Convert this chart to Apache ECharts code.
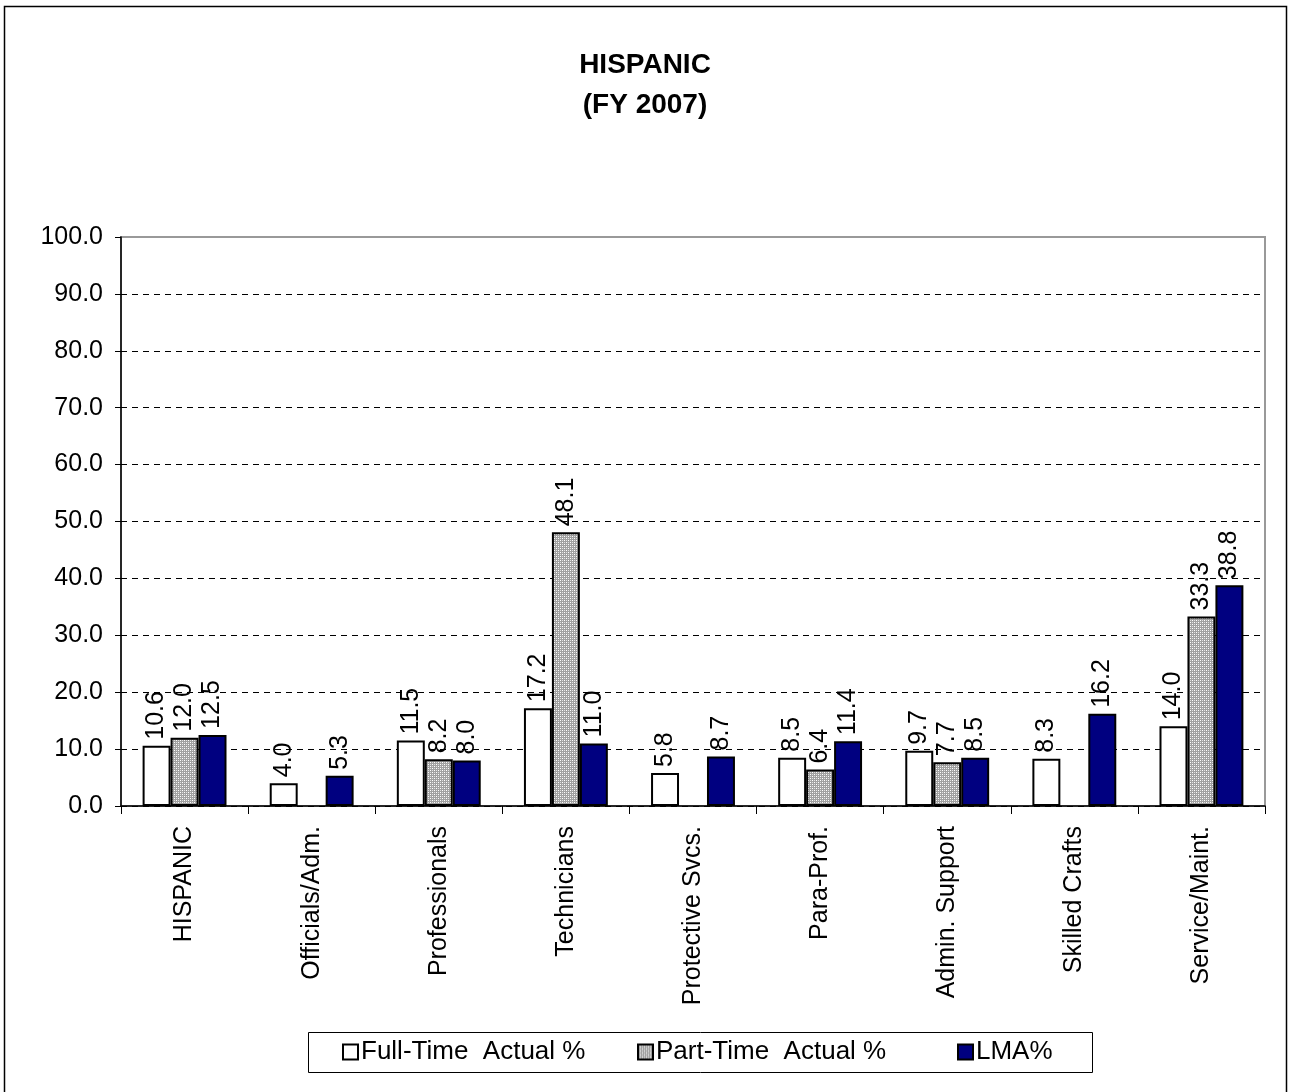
<!DOCTYPE html>
<html>
<head>
<meta charset="utf-8">
<script src="https://cdn.jsdelivr.net/npm/echarts@6/dist/echarts.min.js"></script>
<style>
  html, body { margin: 0; padding: 0; background: #fff; }
  #chart { width: 1290px; height: 1092px; }
</style>
</head>
<body>
<div id="chart"></div>
<script>
  const categories = ['HISPANIC', 'Officials/Adm.', 'Professionals', 'Technicians', 'Protective Svcs.',
    'Para-Prof.', 'Admin. Support', 'Skilled Crafts', 'Service/Maint.']
  const fullTime = [10.6, 4.0, 11.5, 17.2, 5.8, 8.5, 9.7, 8.3, 14.0]
  const partTime = [12.0, '-', 8.2, 48.1, '-', 6.4, 7.7, '-', 33.3]
  const lma = [12.5, 5.3, 8.0, 11.0, 8.7, 11.4, 8.5, 16.2, 38.8]
  const seriesNames = ['Full-Time  Actual %', 'Part-Time  Actual %', 'LMA%']
  const yTicks = [0, 100, 10]

  // small crosshatch tile for the part-time bars
  function hatch() {
    let c = document.createElement('canvas')
    c.width = 4
    c.height = 4
    let ctx = c.getContext('2d')
    ctx.fillStyle = '#a0a0a0'
    ctx.fillRect(0, 0, 4, 4)
    ctx.fillStyle = '#ffffff'
    ctx.fillRect(0, 0, 1, 1)
    ctx.fillRect(2, 2, 1, 1)
    ctx.fillStyle = '#e0e0e0'
    ctx.fillRect(2, 0, 1, 1)
    ctx.fillRect(0, 2, 1, 1)
    return c
  }

  const font = 'Arial, "Liberation Sans", sans-serif'
  const valueLabel = {
    show: true,
    position: 'top',
    rotate: 90,
    align: 'left',
    verticalAlign: 'middle',
    distance: 6,
    color: '#000',
    fontSize: 25,
    fontFamily: font,
    formatter: p => Number(p.value).toFixed(1)
  }
  const barBorder = {borderColor: '#000', borderWidth: 2}

  // one legend per series so each entry sits where the original puts it
  const legendLeft = [342, 637, 957]
  const legends = seriesNames.map((n, i) => ({
    left: legendLeft[i],
    top: 1037,
    padding: 0,
    itemWidth: 15,
    itemHeight: 15,
    icon: 'rect',
    textStyle: {fontSize: 26, lineHeight: 30, fontFamily: font, color: '#000', padding: [0, 0, 0, -2]},
    data: [n]
  }))

  let myChart = echarts.init(document.getElementById('chart'))
  myChart.setOption({
    animation: false,
    backgroundColor: '#fff',
    title: {
      text: 'HISPANIC\n(FY 2007)',
      left: 'center',
      top: 40,
      textStyle: {
        fontSize: 28,
        fontWeight: 'bold',
        fontFamily: font,
        lineHeight: 40,
        color: '#000'
      }
    },
    graphic: [{
      type: 'rect',
      shape: {x: 4.5, y: 6.5, width: 1282, height: 1100},
      style: {fill: 'none', stroke: '#000', lineWidth: 1.5},
      silent: true
    }, {
      type: 'rect',
      shape: {x: 308.5, y: 1032.5, width: 784, height: 40},
      style: {fill: 'none', stroke: '#000', lineWidth: 1},
      silent: true
    }],
    legend: legends,
    grid: {
      left: 121,
      right: 25,
      top: 237,
      bottom: 286,
      show: true,
      borderColor: '#999',
      borderWidth: 2
    },
    xAxis: {
      type: 'category',
      data: categories,
      axisLine: {lineStyle: {color: '#000', width: 1.5}},
      axisTick: {show: true, length: 8, inside: false, lineStyle: {color: '#000'}},
      axisLabel: {
        rotate: 90,
        interval: 0,
        margin: 20,
        fontSize: 25,
        fontFamily: font,
        color: '#000'
      }
    },
    yAxis: {
      type: 'value',
      min: yTicks[0],
      max: yTicks[1],
      interval: yTicks[2],
      axisLine: {show: true, lineStyle: {color: '#000', width: 1.5}},
      axisTick: {show: true, length: 6, lineStyle: {color: '#000'}},
      axisLabel: {
        fontSize: 25,
        fontFamily: font,
        color: '#000',
        margin: 18,
        formatter: v => v.toFixed(1)
      },
      splitLine: {show: true, showMaxLine: false, lineStyle: {color: '#000', type: [6, 5], width: 1}}
    },
    series: [
      {
        name: seriesNames[0],
        type: 'bar',
        data: fullTime,
        barGap: '0%',
        barCategoryGap: '34%',
        itemStyle: Object.assign({color: '#fff'}, barBorder),
        label: valueLabel
      },
      {
        name: seriesNames[1],
        type: 'bar',
        data: partTime,
        barGap: '0%',
        barCategoryGap: '34%',
        itemStyle: Object.assign({color: {image: hatch(), repeat: 'repeat'}}, barBorder),
        label: valueLabel
      },
      {
        name: seriesNames[2],
        type: 'bar',
        data: lma,
        barGap: '0%',
        barCategoryGap: '34%',
        itemStyle: Object.assign({color: '#000080'}, barBorder),
        label: valueLabel
      }
    ]
  })
</script>
</body>
</html>
